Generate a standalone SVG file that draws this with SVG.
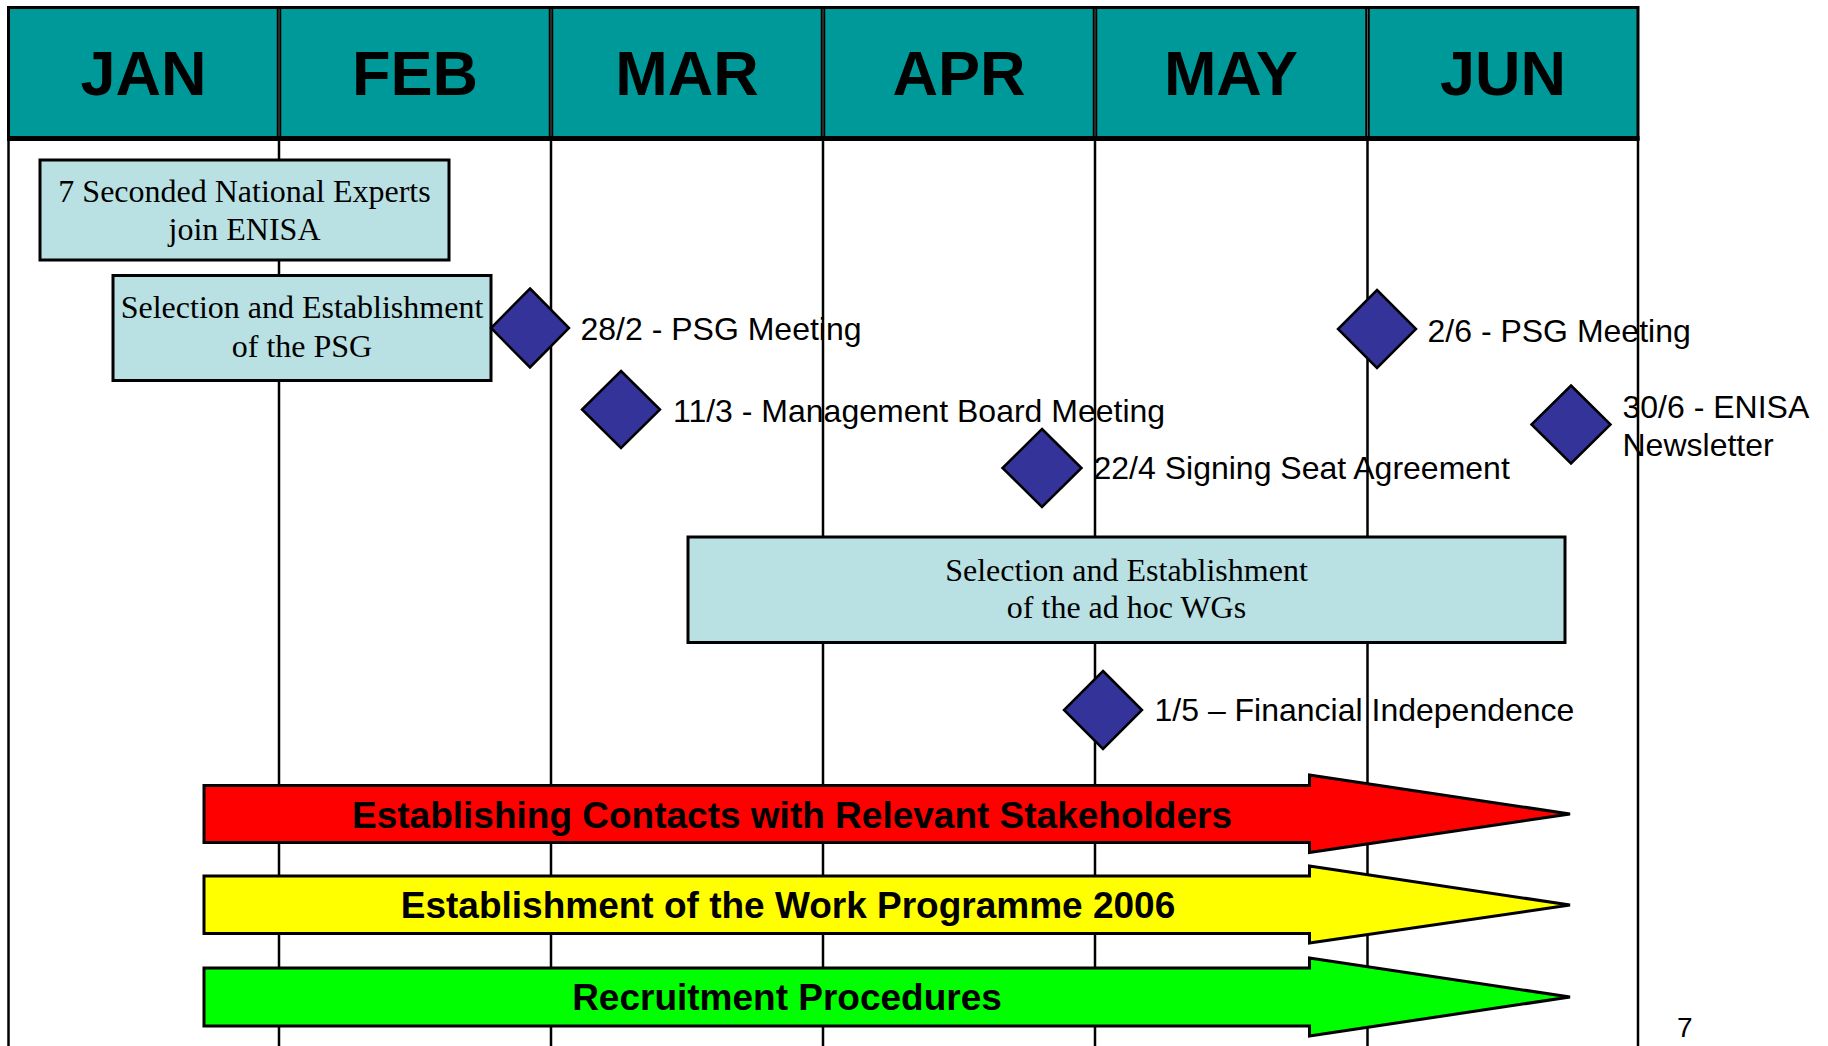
<svg xmlns="http://www.w3.org/2000/svg" width="1828" height="1046" viewBox="0 0 1828 1046">
  <style>
    .month { font-family: "Liberation Sans", Arial, sans-serif; font-weight: bold; font-size: 63px; fill: #000; text-anchor: middle; }
    .grid { stroke: #000; stroke-width: 2.5; }
    .box { fill: #B9E0E3; stroke: #000; stroke-width: 3; }
    .boxtext { font-family: "Liberation Serif", "Times New Roman", serif; font-size: 32px; fill: #000; text-anchor: middle; }
    .ms { fill: #333399; stroke: #000; stroke-width: 2.5; stroke-linejoin: miter; }
    .mstext { font-family: "Liberation Sans", Arial, sans-serif; font-size: 32px; fill: #000; }
    .arrow { stroke: #000; stroke-width: 3; stroke-linejoin: miter; }
    .arrowtext { font-family: "Liberation Sans", Arial, sans-serif; font-weight: bold; font-size: 37px; fill: #000; text-anchor: middle; }
  </style>
  <rect x="0" y="0" width="1828" height="1046" fill="#FFFFFF"/>

  <g id="grid">
    <line class="grid" x1="8.5" y1="138" x2="8.5" y2="1046"/>
    <line class="grid" x1="279" y1="138" x2="279" y2="1046"/>
    <line class="grid" x1="551" y1="138" x2="551" y2="1046"/>
    <line class="grid" x1="823" y1="138" x2="823" y2="1046"/>
    <line class="grid" x1="1095" y1="138" x2="1095" y2="1046"/>
    <line class="grid" x1="1367.5" y1="138" x2="1367.5" y2="1046"/>
    <line class="grid" x1="1638" y1="138" x2="1638" y2="1046"/>
  </g>

  <g id="header">
    <rect x="8.5" y="7.5" width="1629.5" height="131" fill="#009999" stroke="#000" stroke-width="3"/>
    <line x1="7" y1="138.5" x2="1639.5" y2="138.5" stroke="#000" stroke-width="5"/>
    <g stroke="#000" stroke-width="4.5">
      <line x1="279" y1="7" x2="279" y2="138"/>
      <line x1="551" y1="7" x2="551" y2="138"/>
      <line x1="823" y1="7" x2="823" y2="138"/>
      <line x1="1095" y1="7" x2="1095" y2="138"/>
      <line x1="1367.5" y1="7" x2="1367.5" y2="138"/>
    </g>
    <g stroke="#555" stroke-width="1">
      <line x1="279" y1="9" x2="279" y2="136"/>
      <line x1="551" y1="9" x2="551" y2="136"/>
      <line x1="823" y1="9" x2="823" y2="136"/>
      <line x1="1095" y1="9" x2="1095" y2="136"/>
      <line x1="1367.5" y1="9" x2="1367.5" y2="136"/>
    </g>
    <text class="month" x="143.5" y="95">JAN</text>
    <text class="month" x="415" y="95">FEB</text>
    <text class="month" x="687" y="95">MAR</text>
    <text class="month" x="959" y="95">APR</text>
    <text class="month" x="1231" y="95">MAY</text>
    <text class="month" x="1503" y="95">JUN</text>
  </g>

  <g id="sne">
    <rect class="box" x="40" y="160" width="409" height="100"/>
    <text class="boxtext" x="244.5" y="202">7 Seconded National Experts</text>
    <text class="boxtext" x="244.5" y="240">join ENISA</text>
  </g>

  <g id="psg">
    <rect class="box" x="113" y="275.5" width="378" height="105"/>
    <text class="boxtext" x="302" y="318">Selection and Establishment</text>
    <text class="boxtext" x="302" y="357">of the PSG</text>
  </g>

  <g id="wgs">
    <rect class="box" x="688" y="537" width="877" height="105.5"/>
    <text class="boxtext" x="1126.5" y="581">Selection and Establishment</text>
    <text class="boxtext" x="1126.5" y="618">of the ad hoc WGs</text>
  </g>

  <g id="m-psg-28-2">
    <polygon class="ms" points="530,288.5 569,328 530,367.5 491,328"/>
    <text class="mstext" x="580.5" y="340">28/2 - PSG Meeting</text>
  </g>

  <g id="m-mb-11-3">
    <polygon class="ms" points="621,371 660,409.5 621,448 582,409.5"/>
    <text class="mstext" x="673" y="422">11/3 - Management Board Meeting</text>
  </g>

  <g id="m-seat-22-4">
    <polygon class="ms" points="1042,429 1081.5,468 1042,507 1002.5,468"/>
    <text class="mstext" x="1093.5" y="479">22/4 Signing Seat Agreement</text>
  </g>

  <g id="m-psg-2-6">
    <polygon class="ms" points="1377,290 1416,329 1377,368 1338,329"/>
    <text class="mstext" x="1427.5" y="342">2/6 - PSG Meeting</text>
  </g>

  <g id="m-news-30-6">
    <polygon class="ms" points="1571,385.5 1610.5,424.5 1571,463.5 1531.5,424.5"/>
    <text class="mstext" x="1622.5" y="418">30/6 - ENISA</text>
    <text class="mstext" x="1622.5" y="456">Newsletter</text>
  </g>

  <g id="m-fin-1-5">
    <polygon class="ms" points="1103,671 1142,710 1103,749 1064,710"/>
    <text class="mstext" x="1154.5" y="721">1/5 – Financial Independence</text>
  </g>

  <g id="arrow-contacts">
    <polygon class="arrow" fill="#FF0000" points="204,785.5 1309.5,785.5 1309.5,775 1570,814 1309.5,852.5 1309.5,842.5 204,842.5"/>
    <text class="arrowtext" x="792" y="828">Establishing Contacts with Relevant Stakeholders</text>
  </g>

  <g id="arrow-wp">
    <polygon class="arrow" fill="#FFFF00" points="204,876 1309.5,876 1309.5,866 1570,905 1309.5,943 1309.5,933.5 204,933.5"/>
    <text class="arrowtext" x="788" y="918">Establishment of the Work Programme 2006</text>
  </g>

  <g id="arrow-recruit">
    <polygon class="arrow" fill="#00FF00" points="204,968 1309.5,968 1309.5,958 1570,997 1309.5,1036 1309.5,1026 204,1026"/>
    <text class="arrowtext" x="787" y="1010">Recruitment Procedures</text>
  </g>

  <text x="1677" y="1037" font-family="&quot;Liberation Sans&quot;, Arial, sans-serif" font-size="28" fill="#000">7</text>
</svg>
